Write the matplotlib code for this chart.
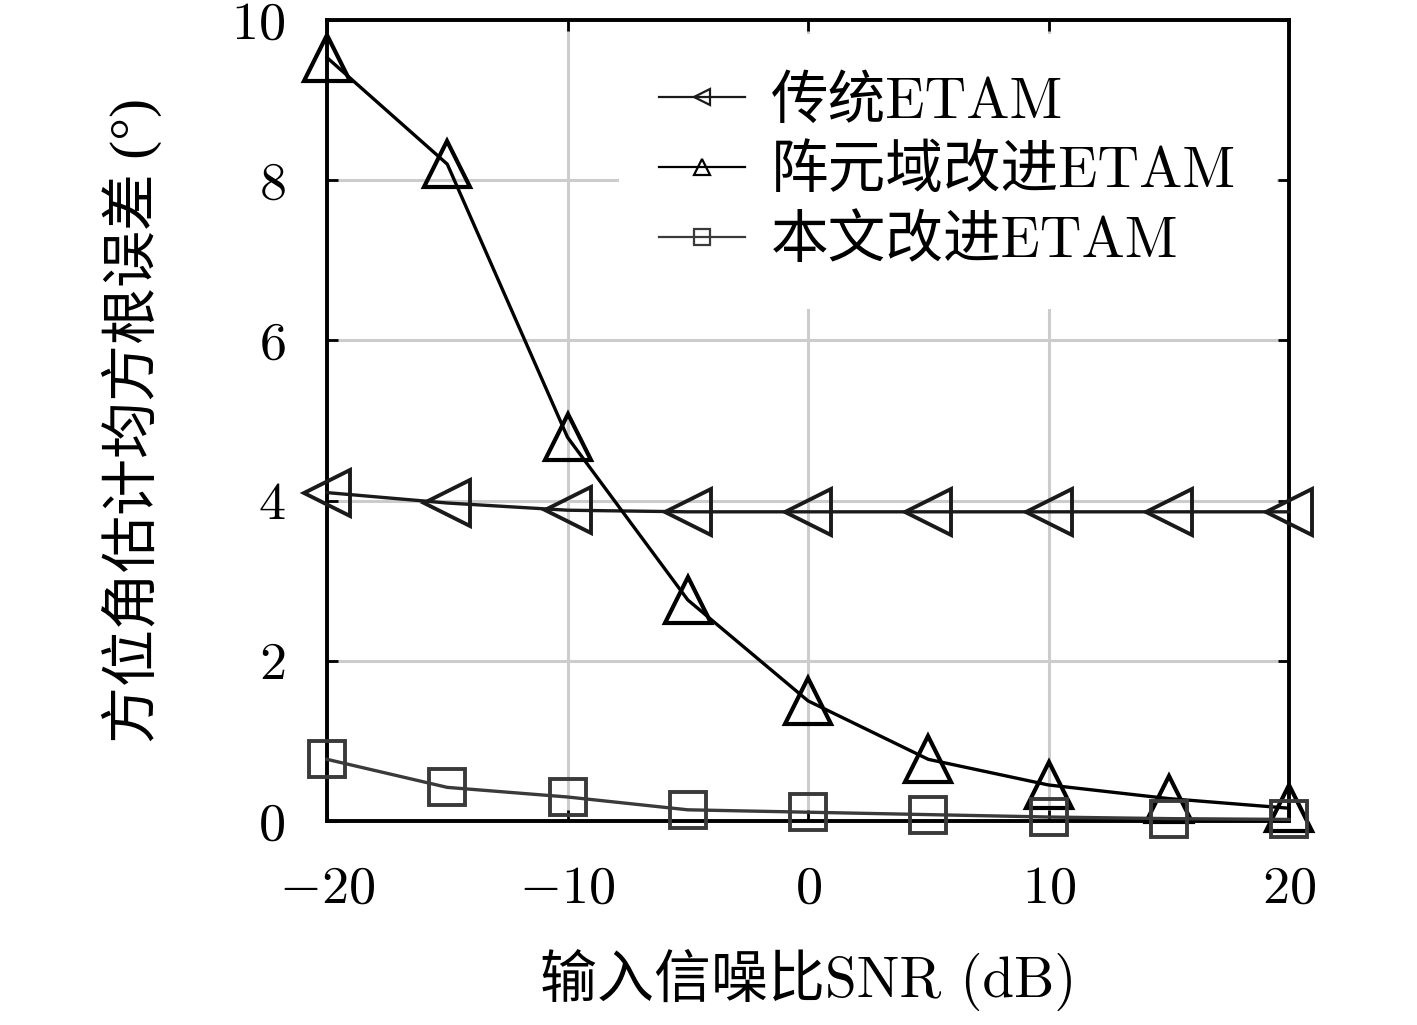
import matplotlib
matplotlib.use("Agg")
import matplotlib.pyplot as plt

snr = [-20, -15, -10, -5, 0, 5, 10, 15, 20]
rmse_traditional = [4.10, 3.97, 3.88, 3.86, 3.86, 3.86, 3.86, 3.86, 3.86]
rmse_element = [9.53, 8.20, 4.79, 2.76, 1.50, 0.77, 0.45, 0.28, 0.16]
rmse_proposed = [0.77, 0.42, 0.30, 0.14, 0.11, 0.08, 0.05, 0.03, 0.02]
labels = ["传统ETAM", "阵元域改进ETAM", "本文改进ETAM"]
xticks = [-20, -10, 0, 10, 20]
xticklabels = ["$-20$", "$-10$", "$0$", "$10$", "$20$"]
yticks = [0, 2, 4, 6, 8, 10]
yticklabels = ["$0$", "$2$", "$4$", "$6$", "$8$", "$10$"]
xlabel = "输入信噪比SNR (dB)"
ylabel = "方位角估计均方根误差 (°)"

plt.rcParams["font.family"] = ["cmr10", "Noto Sans CJK SC", "DejaVu Sans"]
plt.rcParams["mathtext.fontset"] = "cm"
plt.rcParams["axes.unicode_minus"] = False

fig = plt.figure(figsize=(14.17, 10.25), dpi=100)
ax = fig.add_axes([0.2308, 0.199, 0.6789, 0.7815])

ax.plot(snr, rmse_traditional, color="#1a1a1a", lw=2.4, marker="<", ms=33,
        mfc="none", mec="#1a1a1a", mew=2.8, clip_on=False, label=labels[0], zorder=3)
ax.plot(snr, rmse_element, color="#000000", lw=2.4, marker="^", ms=33,
        mfc="none", mec="#000000", mew=3.0, clip_on=False, label=labels[1], zorder=4)
ax.plot(snr, rmse_proposed, color="#3a3a3a", lw=2.4, marker="s", ms=26,
        mfc="none", mec="#3a3a3a", mew=2.8, clip_on=False, label=labels[2], zorder=5)

ax.set_xlim(-20, 20)
ax.set_ylim(0, 10)
ax.set_xticks(xticks)
ax.set_xticklabels(xticklabels)
ax.set_yticks(yticks)
ax.set_yticklabels(yticklabels)
ax.tick_params(axis="both", direction="in", length=8, width=2, top=True, right=True,
               labelsize=39, colors="black")
ax.tick_params(axis="x", pad=32)
ax.tick_params(axis="y", pad=30)
for s in ax.spines.values():
    s.set_linewidth(2.8)
    s.set_color("black")
ax.grid(True, color="#cccccc", lw=2.2)
ax.set_axisbelow(True)

ax.set_xlabel(xlabel, fontsize=41, labelpad=26)
ax.set_ylabel(ylabel, fontsize=41, labelpad=50,
              family=["Liberation Serif", "Noto Sans CJK SC", "DejaVu Sans"])

leg = ax.legend(loc="upper left", bbox_to_anchor=(0.303, 0.982), fontsize=41.5,
                frameon=True, fancybox=False, edgecolor="none", facecolor="white",
                framealpha=1.0, handlelength=1.5, handletextpad=0.45,
                labelspacing=0.28, borderpad=0.7, borderaxespad=0)
leg.set_zorder(2)
for h in leg.legend_handles:
    h.set_markersize(12)
    h.set_markeredgewidth(1.6)
    h.set_linewidth(1.6)

fig.savefig("out.png", dpi=100, facecolor="white")
